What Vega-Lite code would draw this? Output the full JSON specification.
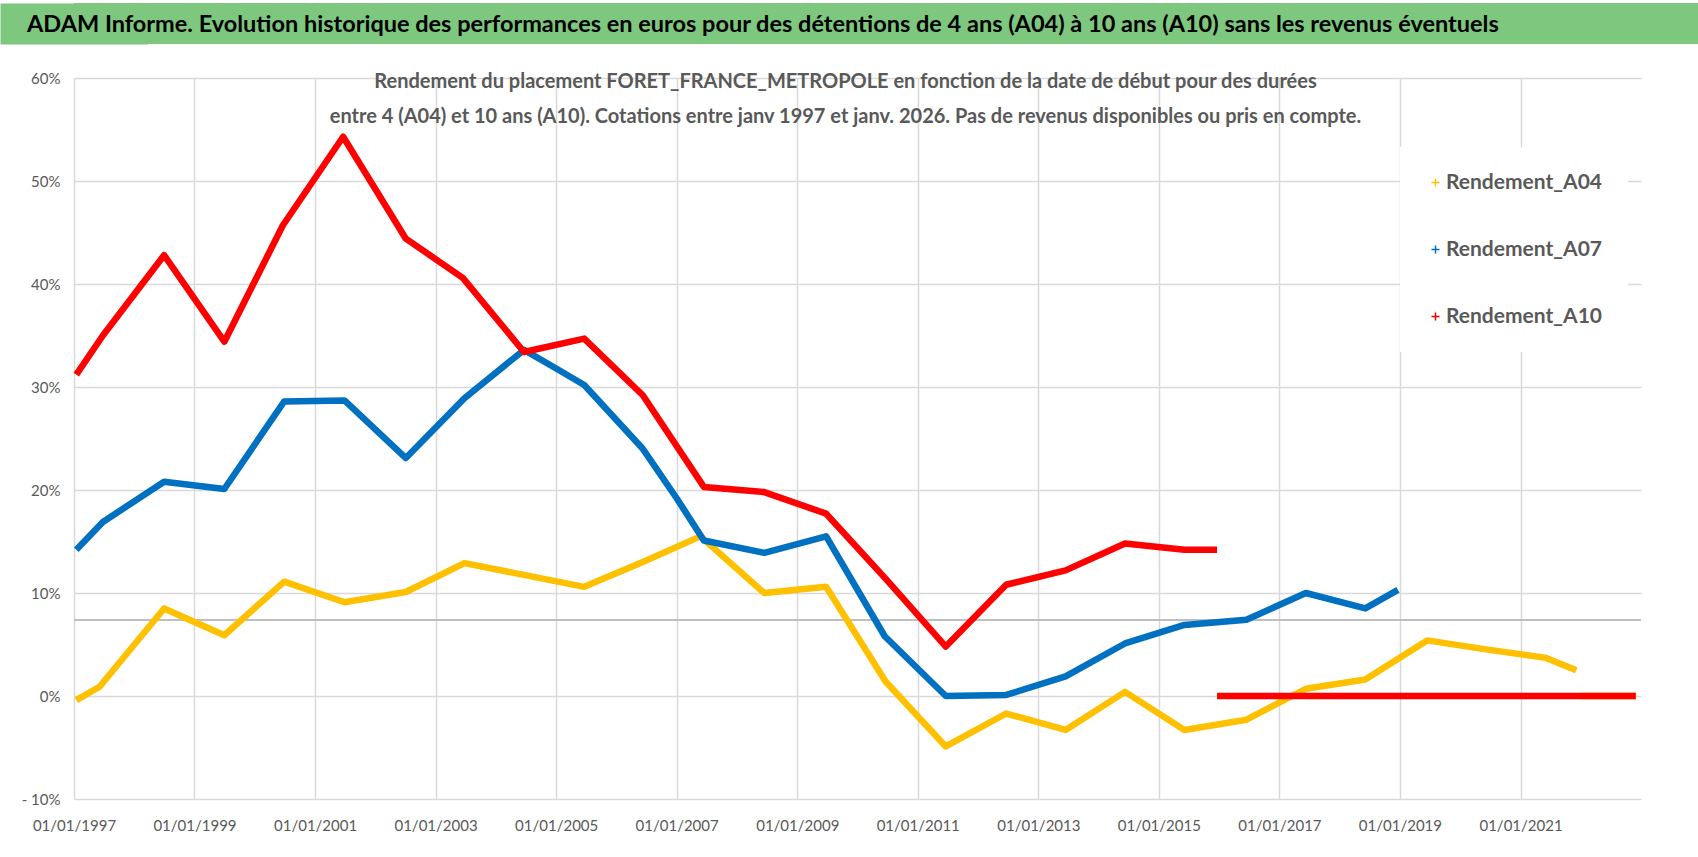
{
  "$schema": "https://vega.github.io/schema/vega-lite/v6.json",
  "background": "white",
  "padding": {"left": 0, "top": 3, "right": 0, "bottom": 0},
  "spacing": 27,
  "resolve": {"legend": {"color": "independent"}},
  "config": {"font": "Lato", "view": {"stroke": null}},
  "vconcat": [
    {
      "width": 1624,
      "height": 41,
      "data": {"values": [{"titre": "ADAM Informe. Evolution historique des performances en euros pour des détentions de 4 ans (A04) à 10 ans (A10) sans les revenus éventuels", "milieu": 0.5}]},
      "encoding": {
        "y": {
          "field": "milieu",
          "type": "quantitative",
          "scale": {"domain": [0, 1]},
          "axis": {"domain": true, "domainColor": "#7dc77f", "domainWidth": 148, "domainCap": "butt", "labels": false, "ticks": false, "grid": false, "title": null, "minExtent": 0}
        }
      },
      "layer": [
        {"mark": {"type": "rect", "color": "#7dc77f"}, "encoding": {"y": null}},
        {
          "mark": {"type": "text", "align": "left", "baseline": "middle", "dx": -859, "dy": 1, "font": "Lato", "fontSize": 23.5, "fontWeight": "bold", "color": "#000000"},
          "encoding": {"text": {"field": "titre", "type": "nominal"}}
        }
      ]
    },
    {
      "width": 1567,
      "height": 721,
      "layer": [
        {
          "data": {"values": [{"moyenne": 0.0738}]},
          "mark": {"type": "rule", "color": "#bfbfbf", "strokeWidth": 2},
          "encoding": {
            "y": {"field": "moyenne", "type": "quantitative", "title": null}
          }
        },
        {
          "data": {
            "format": {"parse": {"date": "utc:'%Y-%m-%d'"}},
            "values": [
              {"serie": "Rendement_A04", "seg": 1, "date": "1997-01-15", "rendement": -0.004},
              {"serie": "Rendement_A04", "seg": 1, "date": "1997-06-05", "rendement": 0.009},
              {"serie": "Rendement_A04", "seg": 1, "date": "1998-07-01", "rendement": 0.085},
              {"serie": "Rendement_A04", "seg": 1, "date": "1999-07-01", "rendement": 0.059},
              {"serie": "Rendement_A04", "seg": 1, "date": "2000-06-28", "rendement": 0.111},
              {"serie": "Rendement_A04", "seg": 1, "date": "2001-06-28", "rendement": 0.091},
              {"serie": "Rendement_A04", "seg": 1, "date": "2002-07-05", "rendement": 0.101},
              {"serie": "Rendement_A04", "seg": 1, "date": "2003-06-25", "rendement": 0.129},
              {"serie": "Rendement_A04", "seg": 1, "date": "2005-06-20", "rendement": 0.106},
              {"serie": "Rendement_A04", "seg": 1, "date": "2006-06-10", "rendement": 0.130},
              {"serie": "Rendement_A04", "seg": 1, "date": "2007-05-25", "rendement": 0.155},
              {"serie": "Rendement_A04", "seg": 1, "date": "2008-06-15", "rendement": 0.100},
              {"serie": "Rendement_A04", "seg": 1, "date": "2009-06-25", "rendement": 0.106},
              {"serie": "Rendement_A04", "seg": 1, "date": "2010-06-20", "rendement": 0.014},
              {"serie": "Rendement_A04", "seg": 1, "date": "2011-06-20", "rendement": -0.049},
              {"serie": "Rendement_A04", "seg": 1, "date": "2012-06-20", "rendement": -0.017},
              {"serie": "Rendement_A04", "seg": 1, "date": "2013-06-15", "rendement": -0.033},
              {"serie": "Rendement_A04", "seg": 1, "date": "2014-06-10", "rendement": 0.004},
              {"serie": "Rendement_A04", "seg": 1, "date": "2015-06-05", "rendement": -0.033},
              {"serie": "Rendement_A04", "seg": 1, "date": "2016-06-15", "rendement": -0.023},
              {"serie": "Rendement_A04", "seg": 1, "date": "2017-06-10", "rendement": 0.007},
              {"serie": "Rendement_A04", "seg": 1, "date": "2018-06-05", "rendement": 0.016},
              {"serie": "Rendement_A04", "seg": 1, "date": "2019-06-15", "rendement": 0.054},
              {"serie": "Rendement_A04", "seg": 1, "date": "2020-06-15", "rendement": 0.045},
              {"serie": "Rendement_A04", "seg": 1, "date": "2021-06-05", "rendement": 0.037},
              {"serie": "Rendement_A04", "seg": 1, "date": "2021-12-05", "rendement": 0.025},
              {"serie": "Rendement_A04", "seg": 2, "date": "2022-01-01", "rendement": 0.0},
              {"serie": "Rendement_A04", "seg": 2, "date": "2022-12-01", "rendement": 0.0},
              {"serie": "Rendement_A07", "seg": 1, "date": "1997-01-15", "rendement": 0.142},
              {"serie": "Rendement_A07", "seg": 1, "date": "1997-06-25", "rendement": 0.169},
              {"serie": "Rendement_A07", "seg": 1, "date": "1998-07-01", "rendement": 0.208},
              {"serie": "Rendement_A07", "seg": 1, "date": "1999-07-01", "rendement": 0.201},
              {"serie": "Rendement_A07", "seg": 1, "date": "2000-06-28", "rendement": 0.286},
              {"serie": "Rendement_A07", "seg": 1, "date": "2001-06-28", "rendement": 0.287},
              {"serie": "Rendement_A07", "seg": 1, "date": "2002-07-05", "rendement": 0.231},
              {"serie": "Rendement_A07", "seg": 1, "date": "2003-06-25", "rendement": 0.289},
              {"serie": "Rendement_A07", "seg": 1, "date": "2004-06-20", "rendement": 0.336},
              {"serie": "Rendement_A07", "seg": 1, "date": "2005-01-01", "rendement": 0.318},
              {"serie": "Rendement_A07", "seg": 1, "date": "2005-06-20", "rendement": 0.302},
              {"serie": "Rendement_A07", "seg": 1, "date": "2006-06-10", "rendement": 0.240},
              {"serie": "Rendement_A07", "seg": 1, "date": "2007-01-01", "rendement": 0.192},
              {"serie": "Rendement_A07", "seg": 1, "date": "2007-06-15", "rendement": 0.151},
              {"serie": "Rendement_A07", "seg": 1, "date": "2008-06-15", "rendement": 0.139},
              {"serie": "Rendement_A07", "seg": 1, "date": "2009-06-25", "rendement": 0.155},
              {"serie": "Rendement_A07", "seg": 1, "date": "2010-06-15", "rendement": 0.058},
              {"serie": "Rendement_A07", "seg": 1, "date": "2011-06-20", "rendement": 0.000},
              {"serie": "Rendement_A07", "seg": 1, "date": "2012-06-20", "rendement": 0.001},
              {"serie": "Rendement_A07", "seg": 1, "date": "2013-06-15", "rendement": 0.019},
              {"serie": "Rendement_A07", "seg": 1, "date": "2014-06-10", "rendement": 0.051},
              {"serie": "Rendement_A07", "seg": 1, "date": "2015-06-05", "rendement": 0.069},
              {"serie": "Rendement_A07", "seg": 1, "date": "2016-06-15", "rendement": 0.074},
              {"serie": "Rendement_A07", "seg": 1, "date": "2017-06-10", "rendement": 0.100},
              {"serie": "Rendement_A07", "seg": 1, "date": "2018-06-05", "rendement": 0.085},
              {"serie": "Rendement_A07", "seg": 1, "date": "2018-12-20", "rendement": 0.103},
              {"serie": "Rendement_A10", "seg": 1, "date": "1997-01-15", "rendement": 0.312},
              {"serie": "Rendement_A10", "seg": 1, "date": "1997-06-25", "rendement": 0.350},
              {"serie": "Rendement_A10", "seg": 1, "date": "1998-07-01", "rendement": 0.428},
              {"serie": "Rendement_A10", "seg": 1, "date": "1999-07-01", "rendement": 0.344},
              {"serie": "Rendement_A10", "seg": 1, "date": "2000-06-20", "rendement": 0.457},
              {"serie": "Rendement_A10", "seg": 1, "date": "2001-06-20", "rendement": 0.543},
              {"serie": "Rendement_A10", "seg": 1, "date": "2002-07-05", "rendement": 0.444},
              {"serie": "Rendement_A10", "seg": 1, "date": "2003-06-15", "rendement": 0.406},
              {"serie": "Rendement_A10", "seg": 1, "date": "2004-06-20", "rendement": 0.334},
              {"serie": "Rendement_A10", "seg": 1, "date": "2005-06-20", "rendement": 0.347},
              {"serie": "Rendement_A10", "seg": 1, "date": "2006-06-10", "rendement": 0.292},
              {"serie": "Rendement_A10", "seg": 1, "date": "2007-06-15", "rendement": 0.203},
              {"serie": "Rendement_A10", "seg": 1, "date": "2008-06-15", "rendement": 0.198},
              {"serie": "Rendement_A10", "seg": 1, "date": "2009-06-25", "rendement": 0.177},
              {"serie": "Rendement_A10", "seg": 1, "date": "2010-06-20", "rendement": 0.114},
              {"serie": "Rendement_A10", "seg": 1, "date": "2011-06-20", "rendement": 0.048},
              {"serie": "Rendement_A10", "seg": 1, "date": "2012-06-20", "rendement": 0.108},
              {"serie": "Rendement_A10", "seg": 1, "date": "2013-06-15", "rendement": 0.122},
              {"serie": "Rendement_A10", "seg": 1, "date": "2014-06-10", "rendement": 0.148},
              {"serie": "Rendement_A10", "seg": 1, "date": "2015-06-05", "rendement": 0.142},
              {"serie": "Rendement_A10", "seg": 1, "date": "2015-12-20", "rendement": 0.142},
              {"serie": "Rendement_A10", "seg": 2, "date": "2015-12-20", "rendement": 0.0},
              {"serie": "Rendement_A10", "seg": 2, "date": "2022-12-01", "rendement": 0.0}
            ]
          },
          "mark": {"type": "line", "strokeWidth": 6.5, "strokeJoin": "round"},
          "encoding": {
            "x": {
              "field": "date",
              "type": "temporal",
              "title": null,
              "scale": {
                "type": "utc",
                "domain": [
                  {"year": 1997, "month": 1, "date": 1, "utc": true},
                  {"year": 2023, "month": 1, "date": 1, "utc": true}
                ]
              },
              "axis": {
                "values": [
                  {"year": 1997, "month": 1, "date": 1, "utc": true},
                  {"year": 1999, "month": 1, "date": 1, "utc": true},
                  {"year": 2001, "month": 1, "date": 1, "utc": true},
                  {"year": 2003, "month": 1, "date": 1, "utc": true},
                  {"year": 2005, "month": 1, "date": 1, "utc": true},
                  {"year": 2007, "month": 1, "date": 1, "utc": true},
                  {"year": 2009, "month": 1, "date": 1, "utc": true},
                  {"year": 2011, "month": 1, "date": 1, "utc": true},
                  {"year": 2013, "month": 1, "date": 1, "utc": true},
                  {"year": 2015, "month": 1, "date": 1, "utc": true},
                  {"year": 2017, "month": 1, "date": 1, "utc": true},
                  {"year": 2019, "month": 1, "date": 1, "utc": true},
                  {"year": 2021, "month": 1, "date": 1, "utc": true}
                ],
                "labelExpr": "utcFormat(datum.value, '%d/%m/%Y')",
                "grid": true,
                "gridColor": "#d9d9d9",
                "gridWidth": 1.5,
                "domain": false,
                "ticks": false,
                "labelPadding": 19,
                "labelFont": "Lato",
                "labelFontSize": 15,
                "labelColor": "#595959",
                "labelOverlap": false,
                "labelFlush": false,
                "labelLimit": 0
              }
            },
            "y": {
              "field": "rendement",
              "type": "quantitative",
              "title": null,
              "scale": {"domain": [-0.1, 0.6], "nice": false, "zero": false},
              "axis": {
                "values": [-0.1, 0, 0.1, 0.2, 0.3, 0.4, 0.5, 0.6],
                "labelExpr": "datum.value < -0.0001 ? '- ' + format(-datum.value, '.0%') : format(datum.value, '.0%')",
                "grid": true,
                "gridColor": "#d9d9d9",
                "gridWidth": 1.5,
                "domain": false,
                "ticks": false,
                "labelPadding": 14,
                "labelFont": "Lato",
                "labelFontSize": 15,
                "labelColor": "#595959",
                "labelLimit": 0,
                "minExtent": 74,
                "maxExtent": 74
              }
            },
            "color": {
              "field": "serie",
              "type": "nominal",
              "scale": {
                "domain": ["Rendement_A04", "Rendement_A07", "Rendement_A10"],
                "range": ["#ffc000", "#0070c0", "#ff0000"]
              },
              "legend": {
                "orient": "none",
                "legendX": 1326,
                "legendY": 69,
                "title": null,
                "fillColor": "white",
                "padding": 25,
                "labelFont": "Lato",
                "labelFontSize": 21,
                "labelFontWeight": "bold",
                "labelColor": "#595959",
                "labelLimit": 0,
                "symbolType": "M-1,0H1M0,-1V1",
                "symbolSize": 64,
                "symbolStrokeWidth": 1.5,
                "rowPadding": 45,
                "labelOffset": 0
              }
            },
            "detail": {"field": "seg", "type": "nominal"}
          }
        },
        {
          "data": {"values": [{"sous_titre": ["Rendement du placement FORET_FRANCE_METROPOLE en fonction de la date de début pour des durées", "entre 4 (A04) et 10 ans (A10). Cotations entre janv 1997 et janv. 2026. Pas de revenus disponibles ou pris en compte."]}]},
          "mark": {"type": "text", "align": "center", "baseline": "alphabetic", "dx": -12, "dy": 10, "lineHeight": 35, "font": "Lato", "fontSize": 20, "fontWeight": "bold", "color": "#595959"},
          "encoding": {
            "y": {"datum": 0.6, "type": "quantitative"},
            "text": {"field": "sous_titre"}
          }
        }
      ]
    }
  ]
}
